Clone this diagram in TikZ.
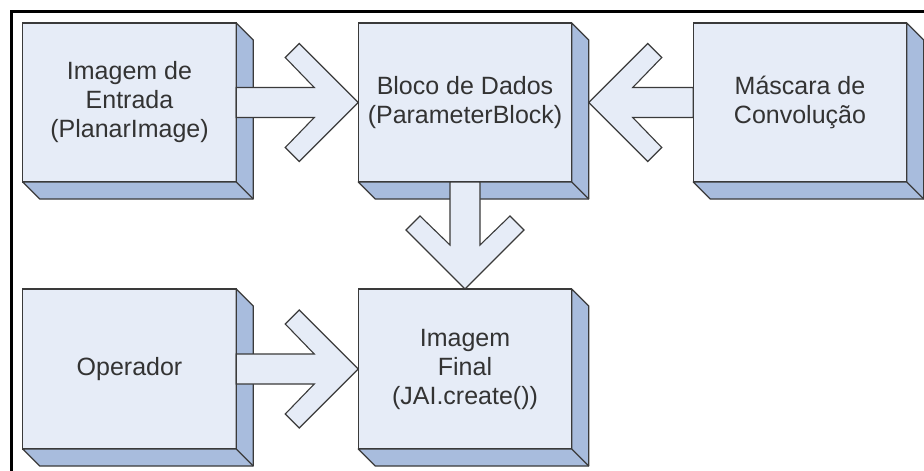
\documentclass[tikz,border=0pt]{standalone}
\usepackage{fontspec}
\setmainfont{Liberation Sans}
\usetikzlibrary{calc}

\definecolor{facefill}{HTML}{E6ECF7}
\definecolor{sidefill}{HTML}{A8BCDD}
\definecolor{edgecol}{HTML}{3A3A3A}
\definecolor{textcol}{HTML}{333333}

\tikzset{
  block/.style={draw=edgecol, line width=1.3pt, fill=facefill,
    minimum width=213.5pt, minimum height=159pt, inner sep=0pt, outer sep=0pt,
    text=textcol, align=center, font=\fontsize{25}{29}\selectfont},
  side/.style={draw=edgecol, line width=1.3pt, fill=sidefill, line join=round},
  fat/.style={draw=edgecol, line width=1.1pt, fill=facefill, line join=miter},
  frameline/.style={draw=black, line width=3pt}
}

% extruded right and bottom faces of a block
\newcommand\depthfaces[1]{%
  \draw[side] (#1.north east) -- ++(17,17) -- ($(#1.south east)+(17,17)$)
    -- ($(#1.south west)+(17,17)$) -- (#1.south west) -- (#1.south east) -- cycle;
  \draw[side] (#1.south east) -- ++(17,17);
}

% wide hollow arrow from #1 to #2; (#3,#4) is the unit direction on the canvas
\newcommand\fatarrow[4]{%
  \draw[fat] let \p1=(#1), \p2=(#2),
      \n1={(\x2-\x1)*(#3)+(\y2-\y1)*(#4)} in
    (\p2)
    -- ({\x2-59pt*(#3)-59pt*(#4)}, {\y2-59pt*(#4)+59pt*(#3)})
    -- ({\x2-73pt*(#3)-45pt*(#4)}, {\y2-73pt*(#4)+45pt*(#3)})
    -- ({\x2-44pt*(#3)-15pt*(#4)}, {\y2-44pt*(#4)+15pt*(#3)})
    -- ({\x2-\n1*(#3)-15pt*(#4)}, {\y2-\n1*(#4)+15pt*(#3)})
    -- ({\x2-\n1*(#3)+15pt*(#4)}, {\y2-\n1*(#4)-15pt*(#3)})
    -- ({\x2-44pt*(#3)+15pt*(#4)}, {\y2-44pt*(#4)-15pt*(#3)})
    -- ({\x2-73pt*(#3)+45pt*(#4)}, {\y2-73pt*(#4)-45pt*(#3)})
    -- ({\x2-59pt*(#3)+59pt*(#4)}, {\y2-59pt*(#4)-59pt*(#3)})
    -- cycle;
}

\begin{document}
\begin{tikzpicture}[x=1pt, y=-1pt]
  \useasboundingbox (0,0) rectangle (924,471);
  \fill[white] (0,0) rectangle (924,471);

  % page frame
  \draw[frameline] (11.5,480) -- (11.5,11.5) -- (940,11.5);

  % blocks
  \node[block] (entrada)  at (129.5,102.5) {Imagem de\\Entrada\\(PlanarImage)};
  \node[block] (dados)    at (465,102.5)   {Bloco de Dados\\(ParameterBlock)};
  \node[block] (mascara)  at (800,102.5)   {Máscara de\\Convolução};
  \node[block, minimum height=160pt] (final)    at (465,369)     {Imagem\\Final\\(JAI.create())};
  \node[block, minimum height=160pt] (operador) at (129.5,369)   {Operador};

  \depthfaces{entrada}
  \depthfaces{dados}
  \depthfaces{mascara}
  \depthfaces{final}
  \depthfaces{operador}

  \coordinate (dadosside) at ($(dados.east)+(17,0)$);

  % flows
  \fatarrow{entrada.east}{dados.west}{1}{0}
  \fatarrow{mascara.west}{dadosside}{-1}{0}
  \fatarrow{dados.south}{final.north}{0}{-1}
  \fatarrow{operador.east}{final.west}{1}{0}
\end{tikzpicture}
\end{document}
